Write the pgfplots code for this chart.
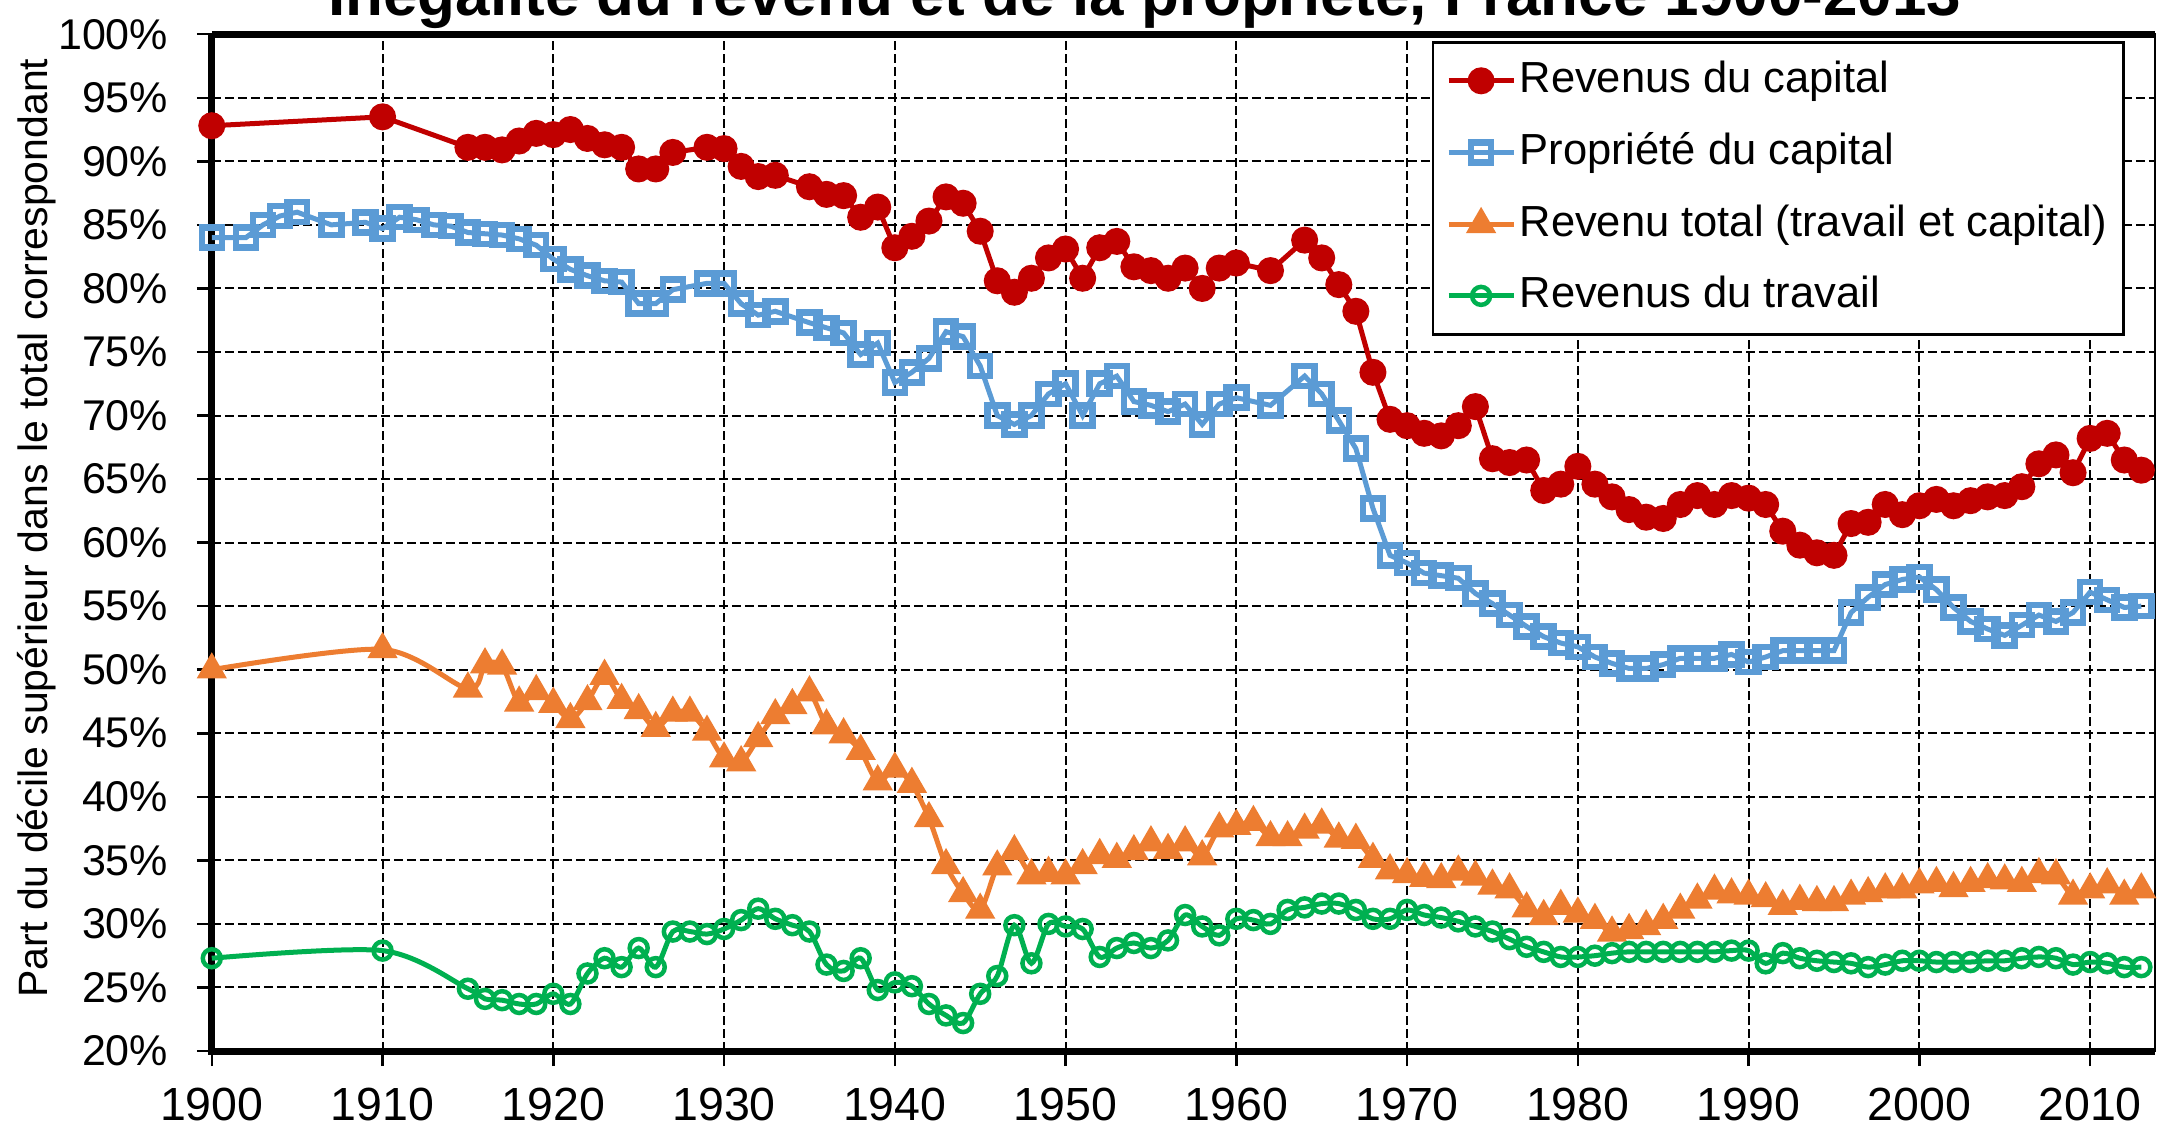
\documentclass[border=0pt]{standalone}
\usepackage{fontspec}
\setmainfont{Liberation Sans}
\usepackage{pgfplots}
\usepackage{pgfplotstable}
\pgfplotsset{compat=1.18}

\definecolor{capred}{HTML}{C00000}
\definecolor{propblue}{HTML}{5B9BD5}
\definecolor{totorange}{HTML}{ED7D31}
\definecolor{travgreen}{HTML}{00B050}

% Revenus du capital
\pgfplotstableread{
year val
1900 92.8
1910 93.5
1915 91.1
1916 91.1
1917 90.9
1918 91.6
1919 92.2
1920 92.1
1921 92.5
1922 91.8
1923 91.3
1924 91.1
1925 89.4
1926 89.4
1927 90.7
1929 91.1
1930 91.0
1931 89.6
1932 88.8
1933 88.9
1935 88.0
1936 87.4
1937 87.3
1938 85.6
1939 86.4
1940 83.2
1941 84.1
1942 85.3
1943 87.2
1944 86.7
1945 84.5
1946 80.6
1947 79.7
1948 80.8
1949 82.4
1950 83.1
1951 80.8
1952 83.2
1953 83.7
1954 81.7
1955 81.4
1956 80.8
1957 81.6
1958 80.0
1959 81.6
1960 82.0
1962 81.4
1964 83.8
1965 82.4
1966 80.3
1967 78.2
1968 73.4
1969 69.7
1970 69.2
1971 68.6
1972 68.4
1973 69.2
1974 70.7
1975 66.6
1976 66.3
1977 66.5
1978 64.1
1979 64.6
1980 66.0
1981 64.6
1982 63.6
1983 62.6
1984 62.0
1985 61.9
1986 63.0
1987 63.7
1988 63.0
1989 63.7
1990 63.5
1991 63.0
1992 60.9
1993 59.8
1994 59.2
1995 59.0
1996 61.5
1997 61.6
1998 63.0
1999 62.2
2000 62.9
2001 63.4
2002 62.9
2003 63.3
2004 63.6
2005 63.7
2006 64.4
2007 66.2
2008 66.9
2009 65.5
2010 68.2
2011 68.6
2012 66.5
2013 65.7
}\capital

% Propriete du capital
\pgfplotstableread{
year val
1900 84.0
1902 84.0
1903 85.0
1904 85.7
1905 86.0
1907 85.0
1909 85.2
1910 84.7
1911 85.6
1912 85.4
1913 85.0
1914 84.9
1915 84.4
1916 84.3
1917 84.2
1918 83.9
1919 83.4
1920 82.3
1921 81.5
1922 81.0
1923 80.6
1924 80.5
1925 78.8
1926 78.8
1927 79.9
1929 80.4
1930 80.4
1931 78.8
1932 77.9
1933 78.2
1935 77.3
1936 76.9
1937 76.5
1938 74.8
1939 75.7
1940 72.6
1941 73.4
1942 74.5
1943 76.6
1944 76.2
1945 73.9
1946 70.0
1947 69.3
1948 70.0
1949 71.7
1950 72.5
1951 70.0
1952 72.5
1953 73.1
1954 71.1
1955 70.8
1956 70.3
1957 70.9
1958 69.3
1959 70.9
1960 71.4
1962 70.8
1964 73.1
1965 71.7
1966 69.6
1967 67.4
1968 62.7
1969 59.0
1970 58.4
1971 57.6
1972 57.4
1973 57.2
1974 56.0
1975 55.2
1976 54.3
1977 53.4
1978 52.6
1979 52.1
1980 51.8
1981 51.0
1982 50.5
1983 50.1
1984 50.1
1985 50.4
1986 50.9
1987 50.9
1988 50.9
1989 51.2
1990 50.6
1991 51.0
1992 51.5
1993 51.5
1994 51.5
1995 51.5
1996 54.5
1997 55.7
1998 56.7
1999 57.1
2000 57.3
2001 56.3
2002 54.9
2003 53.8
2004 53.2
2005 52.7
2006 53.5
2007 54.3
2008 53.8
2009 54.5
2010 56.1
2011 55.5
2012 54.9
2013 55.0
}\propriete

% Revenu total
\pgfplotstableread{
year val
1900 50.0
1910 51.6
1915 48.5
1916 50.4
1917 50.3
1918 47.4
1919 48.3
1920 47.3
1921 46.1
1922 47.5
1923 49.5
1924 47.6
1925 46.8
1926 45.4
1927 46.6
1928 46.6
1929 45.1
1930 43.0
1931 42.7
1932 44.6
1933 46.4
1934 47.2
1935 48.2
1936 45.6
1937 44.9
1938 43.6
1939 41.2
1940 42.2
1941 41.0
1942 38.3
1943 34.6
1944 32.4
1945 31.1
1946 34.5
1947 35.7
1948 33.8
1949 34.0
1950 33.8
1951 34.6
1952 35.4
1953 35.1
1954 35.7
1955 36.4
1956 35.8
1957 36.4
1958 35.3
1959 37.5
1960 37.7
1961 38.0
1962 36.8
1963 36.8
1964 37.4
1965 37.8
1966 36.7
1967 36.6
1968 35.1
1969 34.2
1970 33.9
1971 33.6
1972 33.5
1973 34.1
1974 33.7
1975 33.0
1976 32.7
1977 31.2
1978 30.6
1979 31.4
1980 30.8
1981 30.3
1982 29.3
1983 29.5
1984 29.8
1985 30.3
1986 31.1
1987 31.9
1988 32.6
1989 32.3
1990 32.2
1991 32.0
1992 31.4
1993 31.8
1994 31.7
1995 31.7
1996 32.2
1997 32.4
1998 32.7
1999 32.7
2000 33.1
2001 33.2
2002 32.8
2003 33.2
2004 33.5
2005 33.4
2006 33.2
2007 33.9
2008 33.8
2009 32.2
2010 32.7
2011 33.1
2012 32.2
2013 32.7
}\total

% Revenus du travail
\pgfplotstableread{
year val
1900 27.3
1910 27.9
1915 24.9
1916 24.1
1917 24.0
1918 23.7
1919 23.7
1920 24.5
1921 23.7
1922 26.1
1923 27.3
1924 26.6
1925 28.1
1926 26.6
1927 29.4
1928 29.4
1929 29.2
1930 29.6
1931 30.3
1932 31.2
1933 30.4
1934 29.9
1935 29.4
1936 26.8
1937 26.3
1938 27.3
1939 24.8
1940 25.4
1941 25.1
1942 23.7
1943 22.8
1944 22.2
1945 24.5
1946 25.9
1947 29.9
1948 26.9
1949 30.0
1950 29.8
1951 29.6
1952 27.4
1953 28.1
1954 28.5
1955 28.1
1956 28.7
1957 30.7
1958 29.8
1959 29.1
1960 30.4
1961 30.3
1962 30.0
1963 31.1
1964 31.3
1965 31.6
1966 31.6
1967 31.1
1968 30.4
1969 30.4
1970 31.1
1971 30.7
1972 30.5
1973 30.2
1974 29.8
1975 29.4
1976 28.8
1977 28.2
1978 27.8
1979 27.4
1980 27.4
1981 27.5
1982 27.7
1983 27.8
1984 27.8
1985 27.8
1986 27.8
1987 27.8
1988 27.8
1989 27.9
1990 27.9
1991 26.9
1992 27.7
1993 27.3
1994 27.1
1995 27.0
1996 26.9
1997 26.6
1998 26.8
1999 27.1
2000 27.1
2001 27.0
2002 27.0
2003 27.0
2004 27.1
2005 27.1
2006 27.3
2007 27.4
2008 27.3
2009 26.8
2010 27.0
2011 26.9
2012 26.6
2013 26.6
}\travail

\begin{document}
\begin{tikzpicture}
\begin{axis}[
    at={(0,0)}, anchor=south west,
    scale only axis,
    width=388.64pt, height=203.36pt,
    xmin=1900, xmax=2013.8,
    ymin=20, ymax=100,
    xtick={1900,1910,...,2010},
    ytick={20,25,...,100},
    xtick pos=bottom, ytick pos=left,
    tick align=outside,
    major tick length=3pt,
    major tick style={black, line width=0.5pt},
    /pgf/number format/1000 sep={},
    /pgf/number format/assume math mode=true,
    yticklabel={\pgfmathprintnumber{\tick}\%},
    xticklabel style={font=\fontsize{9.3}{11}\selectfont, yshift=-0.8pt},
    yticklabel style={font=\fontsize{8.6}{10.3}\selectfont, xshift=-2.2pt},
    grid=major,
    grid style={black, line width=0.4pt, dash pattern=on 1.8pt off 0.8pt},
    axis line style={black, line width=0.4pt},
    clip=false,
    ylabel={Part du décile supérieur dans le total correspondant},
    every axis y label/.style={at={(axis description cs:-0.0900,0.5144)},
        rotate=90, anchor=center, font=\fontsize{8.2}{10}\selectfont},
    legend style={at={(0.9845,0.9933)}, anchor=north east,
        draw=black, line width=0.5pt, fill=white,
        font=\fontsize{8.7}{10}\selectfont,
        nodes={inner xsep=0.7pt},
        inner xsep=2.6pt, inner ysep=1.8pt, row sep=2.5pt},
    legend cell align=left,
    legend image code/.code={%
        \draw[mark repeat=2, mark phase=2]
        plot coordinates {(0pt,0pt) (6.5pt,0pt) (13pt,0pt)};},
]
\draw[line width=1.4pt] (rel axis cs:0,1) -- (rel axis cs:0,0) -- (rel axis cs:1,0);
\draw[line width=1.4pt] (rel axis cs:0,1) -- (rel axis cs:1,1);

\addplot[capred, line width=1pt, mark=*, mark size=2.2pt,
    mark options={fill=capred, draw=capred}] table[x=year, y=val] {\capital};
\addlegendentry{Revenus du capital}
\addplot[propblue, line width=1pt, mark=square, mark size=2.0pt,
    mark options={fill=white, draw=propblue, line width=1.3pt}] table[x=year, y=val] {\propriete};
\addlegendentry{Propriété du capital}
\addplot[totorange, line width=1pt, smooth, mark=triangle*, mark size=3.0pt,
    mark options={fill=totorange, draw=totorange, line width=0.5pt}] table[x=year, y=val] {\total};
\addlegendentry{Revenu total (travail et capital)}
\addplot[travgreen, line width=1pt, smooth, mark=o, mark size=1.8pt,
    mark options={fill=white, draw=travgreen, line width=0.9pt}] table[x=year, y=val] {\travail};
\addlegendentry{Revenus du travail}
\end{axis}

\node[anchor=base, font=\bfseries\fontsize{12.4}{14}\selectfont]
    at (186.6pt,207.2pt) {Inégalité du revenu et de la propriété, France 1900-2013};

\pgfresetboundingbox
\useasboundingbox (-42.36pt,-15.6pt) rectangle (389.04pt,210.2pt);
\end{tikzpicture}
\end{document}
